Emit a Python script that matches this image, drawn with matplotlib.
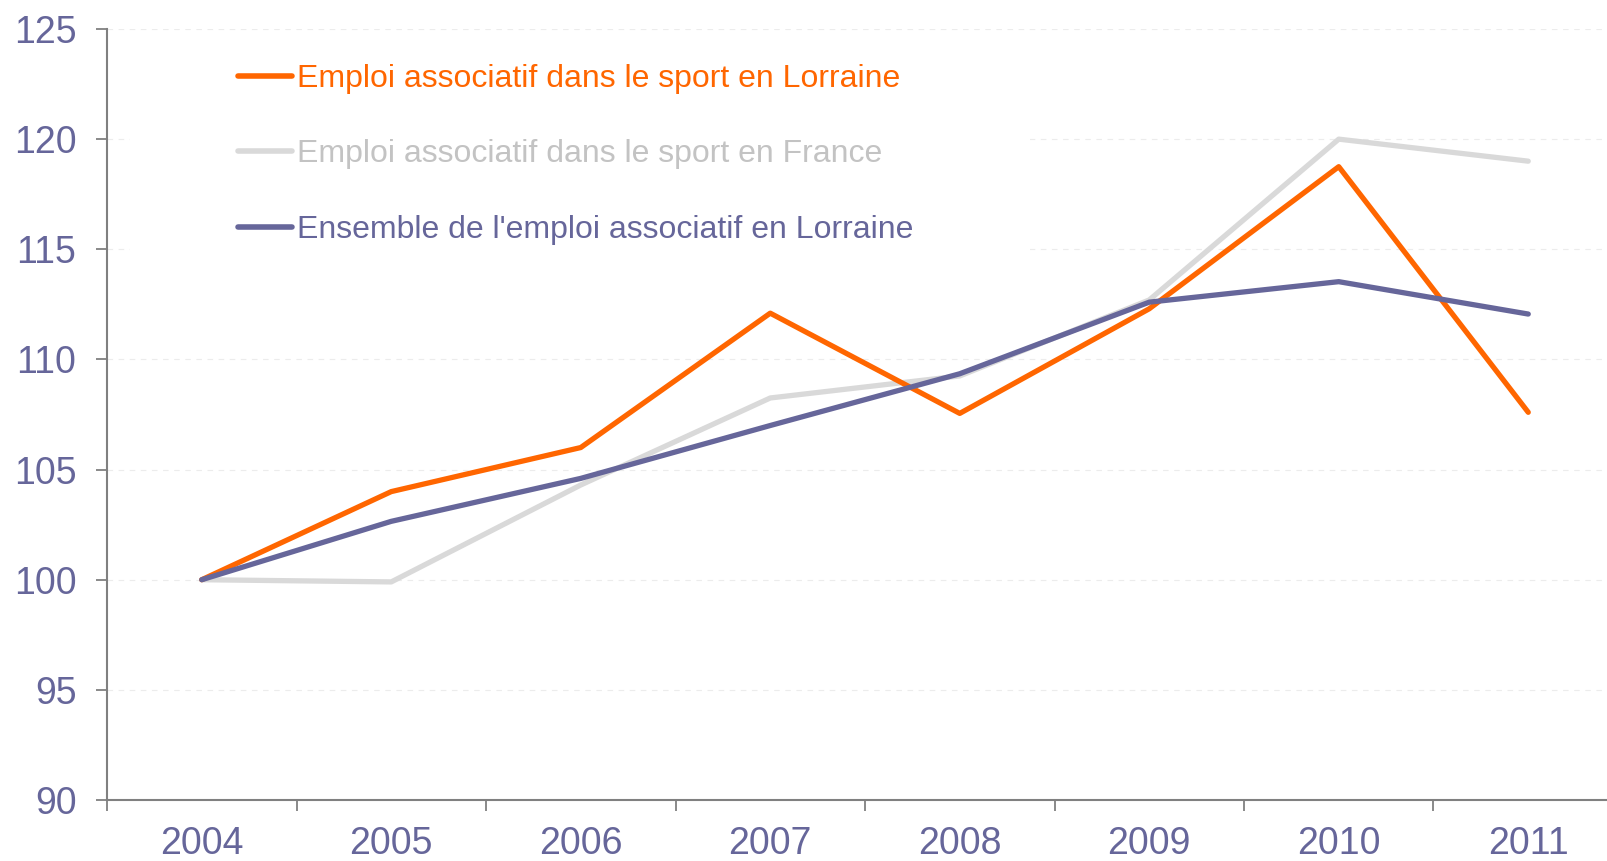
import matplotlib.pyplot as plt
from matplotlib.patches import Rectangle

years = ['2004', '2005', '2006', '2007', '2008', '2009', '2010', '2011']
sport_lorraine = [100, 104.0, 106.0, 112.1, 107.55, 112.3, 118.75, 107.6]
sport_france = [100, 99.9, 104.3, 108.25, 109.25, 112.7, 120.0, 119.0]
ensemble_lorraine = [100, 102.65, 104.6, 107.0, 109.35, 112.6, 113.53, 112.06]
labels = ["Emploi associatif dans le sport en Lorraine",
          "Emploi associatif dans le sport en France",
          "Ensemble de l'emploi associatif en Lorraine"]

plt.rcParams['font.family'] = ['Liberation Sans', 'DejaVu Sans']
purple = '#66669a'
orange = '#ff6600'
grey_line = '#d9d9d9'
axis_grey = '#808080'

fig = plt.figure(figsize=(16.07, 8.61), dpi=100)
W, H = 1607, 861
ax = fig.add_axes([107 / W, 1 - 800 / H, 1516 / W, 771 / H])

x = range(len(years))
style = dict(lw=3.8, solid_joinstyle='round', solid_capstyle='round')
l1, = ax.plot(x, sport_lorraine, color=orange, zorder=3, **style)
l2, = ax.plot(x, sport_france, color=grey_line, zorder=2, **style)
l3, = ax.plot(x, ensemble_lorraine, color=purple, zorder=4, **style)

ax.set_xlim(-0.5, 7.5)
ax.set_ylim(90, 125)
ax.set_yticks(range(90, 126, 5))
ax.set_xticks([i - 0.5 for i in range(9)])
ax.set_xticklabels([])
ax.set_xticks(list(x), minor=True)
ax.set_xticklabels(years, minor=True)
ax.tick_params(axis='x', which='major', length=8, width=1.3, color=axis_grey, direction='out')
ax.tick_params(axis='x', which='minor', length=0, pad=19, labelsize=27, labelcolor=purple)
ax.tick_params(axis='y', length=8, width=1.3, color=axis_grey, pad=14, labelsize=27, labelcolor=purple)

for s in ['top', 'right']:
    ax.spines[s].set_visible(False)
for s in ['left', 'bottom']:
    ax.spines[s].set_color(axis_grey)
    ax.spines[s].set_linewidth(1.5)

ax.set_axisbelow(True)
ax.yaxis.grid(True, color='#ececec', lw=0.8, ls=(0, (5, 5)))
ax.xaxis.grid(False)

# white box behind the legend hides the grid there
ax.add_patch(Rectangle((130 / W, 1 - 300 / H), 900 / W, 260 / H, transform=fig.transFigure,
                       facecolor='white', edgecolor='none', zorder=1))

leg = fig.legend([l1, l2, l3], labels, loc='upper left',
                 bbox_to_anchor=(238 / W, 1 - 64 / H), frameon=False,
                 fontsize=23, handlelength=1.7, handletextpad=0.15,
                 labelspacing=1.42, borderpad=0, borderaxespad=0)
for t, c in zip(leg.get_texts(), [orange, '#c3c3c3', purple]):
    t.set_color(c)
for h in leg.legend_handles:
    h.set_linewidth(4)
    h.set_solid_capstyle('round')

fig.savefig('out.png', dpi=100)
